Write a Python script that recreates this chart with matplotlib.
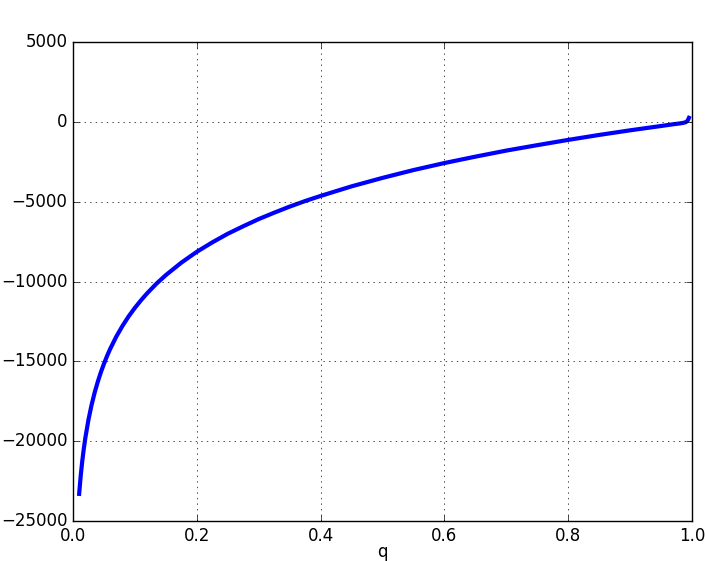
import matplotlib
matplotlib.use("Agg")
import matplotlib.pyplot as plt

# values
q = [0.010, 0.0125, 0.015, 0.0175, 0.02, 0.025, 0.03, 0.035, 0.04, 0.045,
     0.05, 0.055, 0.06, 0.07, 0.08, 0.09, 0.10, 0.11, 0.12, 0.135, 0.15,
     0.175, 0.20, 0.225, 0.25, 0.275, 0.30, 0.325, 0.35, 0.375, 0.40,
     0.45, 0.50, 0.55, 0.60, 0.65, 0.70, 0.75, 0.80, 0.85, 0.90, 0.95,
     0.97, 0.98, 0.985, 0.99, 0.993, 0.995]
vals = [-23300, -22170, -21250, -20470, -19790, -18660, -17740, -16960,
        -16290, -15690, -15160, -14670, -14230, -13450, -12780, -12180,
        -11650, -11170, -10730, -10130, -9600, -8820, -8140, -7550, -7010,
        -6540, -6090, -5690, -5310, -4960, -4640, -4040, -3510, -3020,
        -2580, -2180, -1800, -1460, -1130, -820, -530, -260, -150, -100,
        -70, -20, 80, 250]

plt.style.use("classic")
fig = plt.figure(figsize=(7.05, 5.61), dpi=100, facecolor="white")
ax = fig.add_axes([0.1035, 0.0713, 0.8781, 0.8538])

ax.plot(q, vals, color="blue", linewidth=3)
ax.set_xlim(0, 1)
ax.set_ylim(-25000, 5000)
ax.set_xlabel("q", labelpad=-1)
ax.grid(True)

fig.savefig("out.png", dpi=100, facecolor="white")
